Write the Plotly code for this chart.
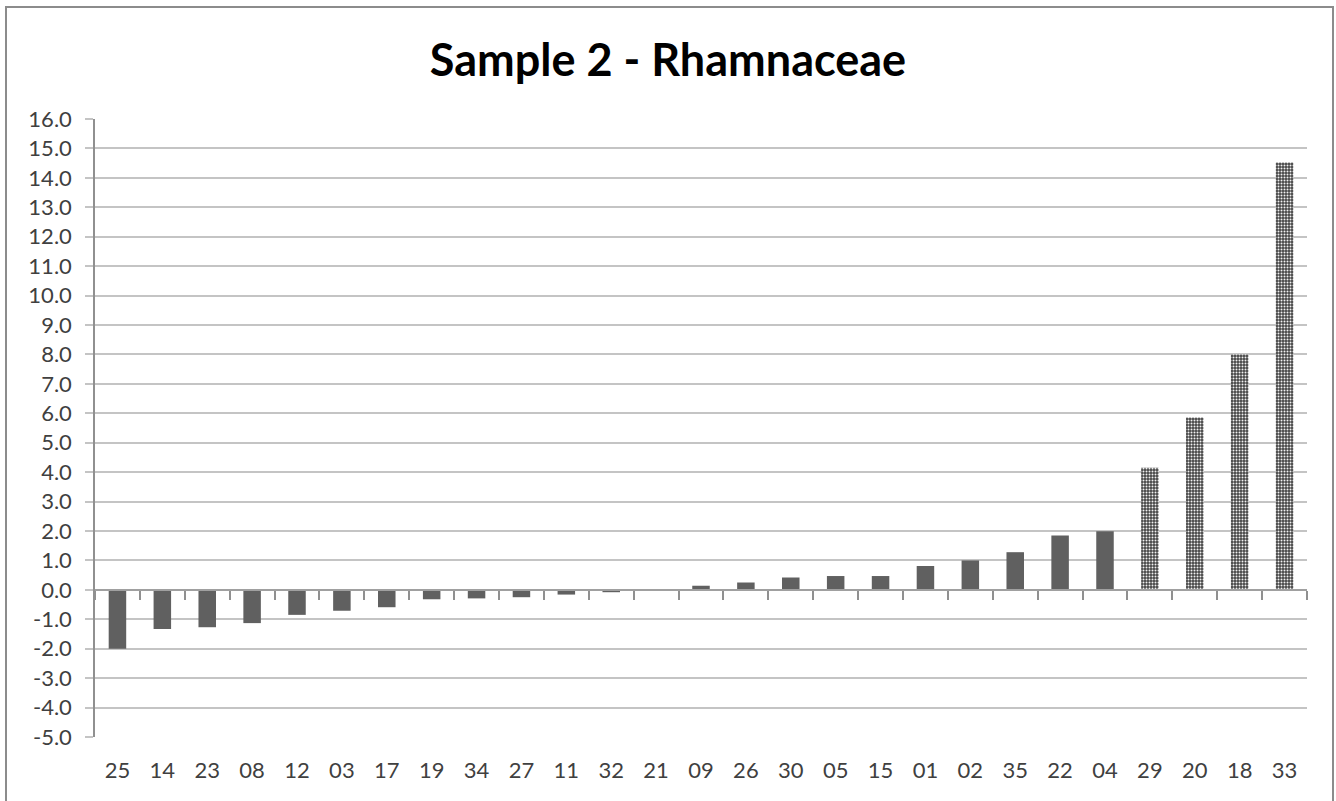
import plotly.graph_objects as go

categories = ["25", "14", "23", "08", "12", "03", "17", "19", "34", "27", "11", "32", "21",
              "09", "26", "30", "05", "15", "01", "02", "35", "22", "04", "29", "20", "18", "33"]
values = [-2.0, -1.33, -1.27, -1.13, -0.85, -0.71, -0.59, -0.32, -0.29, -0.25, -0.16, -0.08, 0.0,
          0.14, 0.25, 0.42, 0.47, 0.47, 0.81, 1.0, 1.28, 1.85, 1.99, 4.15, 5.86, 8.0, 14.52]
patterned = ["29", "20", "18", "33"]
title_text = "Sample 2 - Rhamnaceae"
y_min, y_max = -5, 16
y_ticks = list(range(y_min, y_max + 1))
y_tick_labels = [f"{v:.1f}" for v in y_ticks]

solid_x = [c for c in categories if c not in patterned]
solid_y = [v for c, v in zip(categories, values) if c not in patterned]
pat_x = [c for c in categories if c in patterned]
pat_y = [v for c, v in zip(categories, values) if c in patterned]

fig = go.Figure()
fig.add_trace(go.Bar(x=solid_x, y=solid_y, marker=dict(color="#606060", line=dict(width=0)),
                     hoverinfo="x+y", showlegend=False))
fig.add_trace(go.Bar(x=pat_x, y=pat_y,
                     marker=dict(color="#454545", line=dict(width=0),
                                 pattern=dict(shape=".", size=3, solidity=0.35,
                                              fgcolor="#f2f2f2", bgcolor="#454545", fillmode="replace")),
                     hoverinfo="x+y", showlegend=False))
# invisible trace to carry the zero-line category axis
fig.add_trace(go.Scatter(x=categories, y=[0] * len(categories), xaxis="x2", mode="markers",
                         marker=dict(opacity=0), hoverinfo="skip", showlegend=False))

font_family = "Lato, 'Open Sans', sans-serif"
grid_col = "#c4c4c4"

fig.update_layout(
    width=1336, height=801,
    margin=dict(l=95, r=29, t=119, b=64),
    paper_bgcolor="white", plot_bgcolor="white",
    barmode="overlay", bargap=0.61,
    title=dict(text=f"<b>{title_text}</b>", x=0.5, xanchor="center", y=0.925, yanchor="middle",
               font=dict(family=font_family, size=45, color="black")),
    xaxis=dict(categoryorder="array", categoryarray=categories, type="category",
               range=[-0.5, len(categories) - 0.5],
               showgrid=False, showline=False, ticks="", zeroline=False,
               tickfont=dict(family=font_family, size=22, color="#404040"),
               ticklabelstandoff=18),
    xaxis2=dict(overlaying="x", matches="x", anchor="free", position=(0 - y_min) / (y_max - y_min),
                type="category", categoryorder="array", categoryarray=categories,
                showticklabels=False, showgrid=False, zeroline=False,
                showline=True, linecolor="#a0a0a0", linewidth=1.5,
                ticks="outside", tickson="boundaries", ticklen=9, tickcolor="#909090", tickwidth=1.5),
    yaxis=dict(range=[y_min, y_max], tickmode="array", tickvals=y_ticks, ticktext=y_tick_labels,
               showgrid=True, gridcolor=grid_col, gridwidth=1.5, zeroline=False,
               showline=True, linecolor="#909090", linewidth=1.5,
               ticks="outside", ticklen=8, tickcolor=grid_col, tickwidth=1.5,
               tickfont=dict(family=font_family, size=22, color="#404040"),
               ticklabelstandoff=9),
    shapes=[dict(type="rect", xref="paper", yref="paper",
                 x0=-89 / 1212, x1=1238 / 1212, y0=-70 / 618, y1=1 + 112 / 618,
                 line=dict(color="#8c8c8c", width=2), fillcolor="rgba(0,0,0,0)", layer="below")],
)

fig.write_html("out.html")
